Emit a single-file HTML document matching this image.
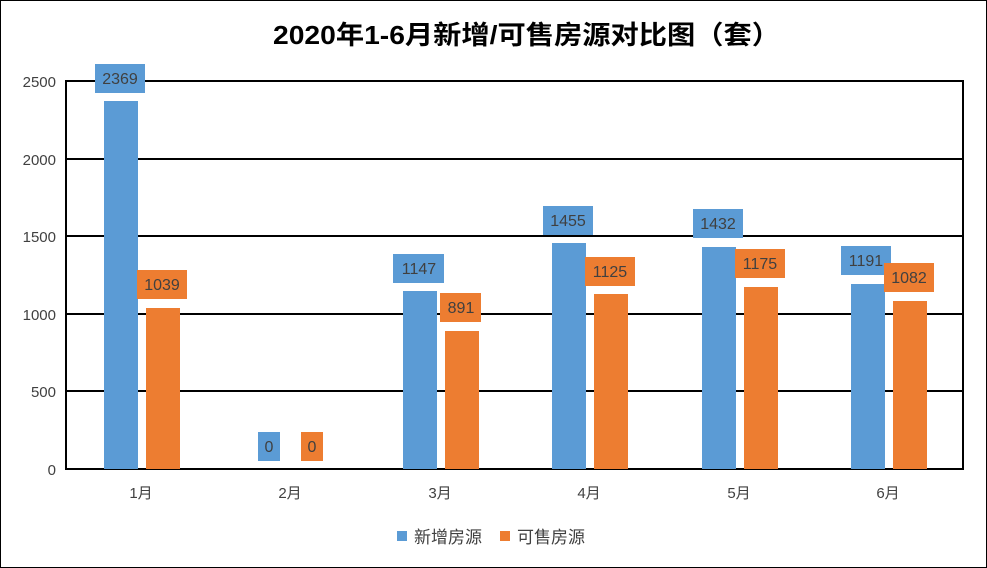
<!DOCTYPE html>
<html><head><meta charset="utf-8"><style>
html,body{margin:0;padding:0;background:#fff}
svg{display:block}
text{font-family:"Liberation Sans","Noto Sans CJK SC",sans-serif}
</style></head><body>
<svg width="987" height="568" viewBox="0 0 987 568" xmlns="http://www.w3.org/2000/svg">
<rect x="0.5" y="0.5" width="986" height="567" fill="#fff" stroke="#000" stroke-width="1"/>
<text x="273" y="44" font-size="26" font-weight="bold" fill="#000" textLength="507" lengthAdjust="spacingAndGlyphs">2020年1-6月新增/可售房源对比图（套）</text>
<g stroke="#000" stroke-width="2">
<line x1="66" y1="81" x2="963" y2="81"/>
<line x1="66" y1="159" x2="963" y2="159"/>
<line x1="66" y1="236" x2="963" y2="236"/>
<line x1="66" y1="314" x2="963" y2="314"/>
<line x1="66" y1="391" x2="963" y2="391"/>
<line x1="66" y1="469" x2="963" y2="469"/>
<line x1="66" y1="80" x2="66" y2="470"/>
<line x1="963" y1="80" x2="963" y2="470"/>
</g>
<g font-size="15" fill="#404040" text-anchor="end">
<text x="56" y="87">2500</text><text x="56" y="165">2000</text><text x="56" y="242">1500</text>
<text x="56" y="320">1000</text><text x="56" y="397">500</text><text x="56" y="475">0</text>
</g>
<g font-size="15" fill="#404040" text-anchor="middle">
<text x="141" y="498">1月</text><text x="290" y="498">2月</text><text x="440" y="498">3月</text>
<text x="589" y="498">4月</text><text x="739" y="498">5月</text><text x="888" y="498">6月</text>
</g>
<g fill="#5b9bd5">
<rect x="104" y="101" width="34" height="368"/>
<rect x="403" y="291" width="34" height="178"/>
<rect x="552" y="243" width="34" height="226"/>
<rect x="702" y="247" width="34" height="222"/>
<rect x="851" y="284" width="34" height="185"/>
</g>
<g fill="#ed7d31">
<rect x="146" y="308" width="34" height="161"/>
<rect x="445" y="331" width="34" height="138"/>
<rect x="594" y="294" width="34" height="175"/>
<rect x="744" y="287" width="34" height="182"/>
<rect x="893" y="301" width="34" height="168"/>
</g>
<g font-size="16" fill="#404040" text-anchor="middle">
<rect x="95" y="64" width="50" height="29" fill="#5b9bd5"/><text x="120" y="84">2369</text>
<rect x="137" y="270" width="50" height="29" fill="#ed7d31"/><text x="162" y="290">1039</text>
<rect x="258" y="432" width="22" height="29" fill="#5b9bd5"/><text x="269" y="452">0</text>
<rect x="301" y="432" width="22" height="29" fill="#ed7d31"/><text x="312" y="452">0</text>
<rect x="393" y="254" width="51" height="29" fill="#5b9bd5"/><text x="419" y="274">1147</text>
<rect x="440" y="293" width="41" height="29" fill="#ed7d31"/><text x="461" y="313">891</text>
<rect x="543" y="206" width="50" height="29" fill="#5b9bd5"/><text x="568" y="226">1455</text>
<rect x="585" y="257" width="50" height="29" fill="#ed7d31"/><text x="610" y="277">1125</text>
<rect x="693" y="209" width="50" height="29" fill="#5b9bd5"/><text x="718" y="229">1432</text>
<rect x="735" y="249" width="50" height="29" fill="#ed7d31"/><text x="760" y="269">1175</text>
<rect x="841" y="246" width="50" height="29" fill="#5b9bd5"/><text x="866" y="266">1191</text>
<rect x="884" y="263" width="50" height="29" fill="#ed7d31"/><text x="909" y="283">1082</text>
</g>
<rect x="397" y="531" width="10" height="10" fill="#5b9bd5"/>
<text x="414" y="543" font-size="17" fill="#404040">新增房源</text>
<rect x="500" y="531" width="10" height="10" fill="#ed7d31"/>
<text x="517" y="543" font-size="17" fill="#404040">可售房源</text>
</svg>
</body></html>
